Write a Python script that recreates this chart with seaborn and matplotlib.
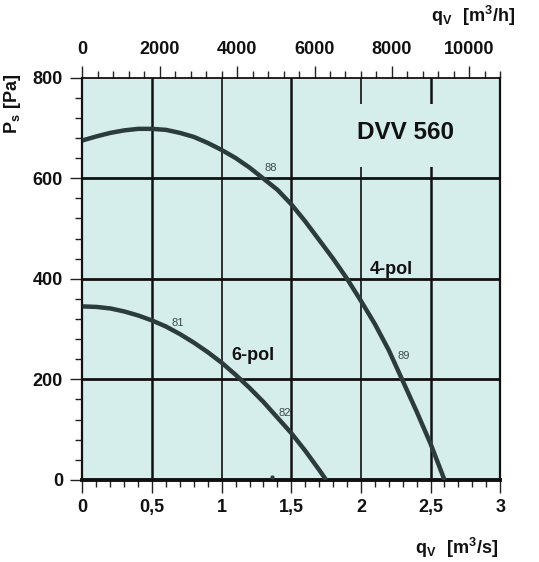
import matplotlib
matplotlib.use('Agg')
import matplotlib.pyplot as plt
from matplotlib.patches import Rectangle
from matplotlib.ticker import MultipleLocator, FixedLocator
import seaborn as sns
import pandas as pd

# 4-pol curve (q in m3/s, ps in Pa)
q_4pol = [0.0, 0.1, 0.2, 0.3, 0.4, 0.5, 0.6, 0.7, 0.8, 0.9, 1.0, 1.1, 1.2, 1.3,
          1.4, 1.5, 1.6, 1.7, 1.8, 1.9, 2.0, 2.1, 2.2, 2.3, 2.4, 2.5, 2.6]
ps_4pol = [675, 683, 690, 695, 698, 698, 696, 690, 682, 670, 656, 640, 621, 599,
           577, 548, 514, 477, 440, 400, 356, 310, 258, 197, 136, 72, 0]

# 6-pol curve
q_6pol = [0.0, 0.1, 0.2, 0.3, 0.4, 0.5, 0.6, 0.7, 0.8, 0.9, 1.0, 1.1, 1.2, 1.3,
          1.4, 1.5, 1.6, 1.7, 1.75]
ps_6pol = [345, 344, 341, 335, 327, 317, 305, 290, 273, 254, 233, 209, 183, 155,
           124, 93, 58, 20, 0]

# efficiency labels along the curves
eta_labels = ["88", "89", "81", "82"]
eta_q = [1.35, 2.305, 0.684, 1.45]
eta_ps = [621, 247, 312, 133]

# tick labels
q_s_ticks = [0, 0.5, 1, 1.5, 2, 2.5, 3]
q_s_labels = ["0", "0,5", "1", "1,5", "2", "2,5", "3"]
q_h_ticks = [0, 2000, 4000, 6000, 8000, 10000]
q_h_minor = [i * 400 for i in range(28)]

BG = "#d6eeeb"
CURVE = "#2c3b3b"

sns.set_theme(style="ticks")
plt.rcParams['font.family'] = ['Liberation Sans', 'DejaVu Sans']
plt.rcParams['mathtext.fontset'] = 'custom'
plt.rcParams['mathtext.bf'] = 'Liberation Sans:bold'
plt.rcParams['mathtext.rm'] = 'Liberation Sans'

fig = plt.figure(figsize=(5.39, 5.62), dpi=100)
ax = fig.add_axes([0.153, 0.146, 0.775, 0.716])
ax.set_facecolor(BG)

df = pd.concat([
    pd.DataFrame({"q": q_4pol, "ps": ps_4pol, "motor": "4-pol"}),
    pd.DataFrame({"q": q_6pol, "ps": ps_6pol, "motor": "6-pol"}),
])
sns.lineplot(data=df, x="q", y="ps", units="motor", estimator=None, sort=False,
             color=CURVE, linewidth=3.2, ax=ax, zorder=4, legend=False,
             solid_joinstyle="round", solid_capstyle="butt")

# grid lines
for x in [0.5, 1.5, 2.5]:
    ax.axvline(x, color="#111111", lw=1.8, zorder=1)
for x in [1.0, 2.0]:
    ax.axvline(x, color="#111111", lw=1.2, zorder=1)
for y in [200, 400, 600]:
    ax.axhline(y, color="#111111", lw=2.0, zorder=1)

# background patch behind the title, covering the grid
ax.add_patch(Rectangle((1.95, 622), 0.64, 126, facecolor=BG, edgecolor="none", zorder=2))
ax.text(2.32, 690, "DVV 560", fontsize=17.5, fontweight="bold", ha="center", va="center",
        color="#111111", zorder=5)
ax.text(2.216, 418, "4-pol", fontsize=13, fontweight="bold", ha="center", va="center",
        color="#111111", zorder=5)
ax.text(1.223, 248, "6-pol", fontsize=13, fontweight="bold", ha="center", va="center",
        color="#111111", zorder=5)
for lab, x, y in zip(eta_labels, eta_q, eta_ps):
    ax.text(x, y, lab, fontsize=8, ha="center", va="center", color="#3a4a4a", zorder=5)
ax.plot([1.36], [6], marker="o", markersize=2, color=CURVE, zorder=5)

ax.set_xlim(0, 3)
ax.set_ylim(0, 800)
ax.xaxis.set_minor_locator(MultipleLocator(0.1))
ax.yaxis.set_major_locator(MultipleLocator(200))
ax.yaxis.set_minor_locator(MultipleLocator(40))
ax.set_xticks(q_s_ticks)
ax.set_xticklabels(q_s_labels)
ax.tick_params(axis="both", which="major", length=9, width=1.0, color="#222222",
               labelsize=13, pad=5)
ax.tick_params(axis="both", which="minor", length=5, width=1.0, color="#222222")
for lab in ax.get_xticklabels() + ax.get_yticklabels():
    lab.set_fontweight("bold")
    lab.set_color("#111111")
ax.set_xlabel("")
ax.set_ylabel("")

for side, w in [("left", 1.6), ("bottom", 2.8), ("right", 1.6), ("top", 1.3)]:
    ax.spines[side].set_visible(True)
    ax.spines[side].set_linewidth(w)
    ax.spines[side].set_color("#111111")

# top axis in m3/h
top = ax.secondary_xaxis("top", functions=(lambda s: s * 3600, lambda h: h / 3600))
top.set_xticks(q_h_ticks)
top.set_xticklabels([str(t) for t in q_h_ticks])
top.xaxis.set_minor_locator(FixedLocator(q_h_minor))
top.tick_params(which="major", length=9, width=1.0, color="#222222", labelsize=13, pad=5)
top.tick_params(which="minor", length=5, width=1.0, color="#222222")
top.spines["top"].set_visible(False)
for lab in top.get_xticklabels():
    lab.set_fontweight("bold")
    lab.set_color("#111111")

fig.text(0.956, 0.972, r"$\mathbf{q_V\ \ [m^3/h]}$", fontsize=13, ha="right", va="center",
         color="#111111")
fig.text(0.925, 0.025, r"$\mathbf{q_V\ \ [m^3/s]}$", fontsize=13, ha="right", va="center",
         color="#111111")
fig.text(0.024, 0.815, r"$\mathbf{P_s\ [Pa]}$", fontsize=13, rotation=90, ha="center",
         va="center", color="#111111")

fig.savefig("out.png", dpi=100)
plt.close(fig)
